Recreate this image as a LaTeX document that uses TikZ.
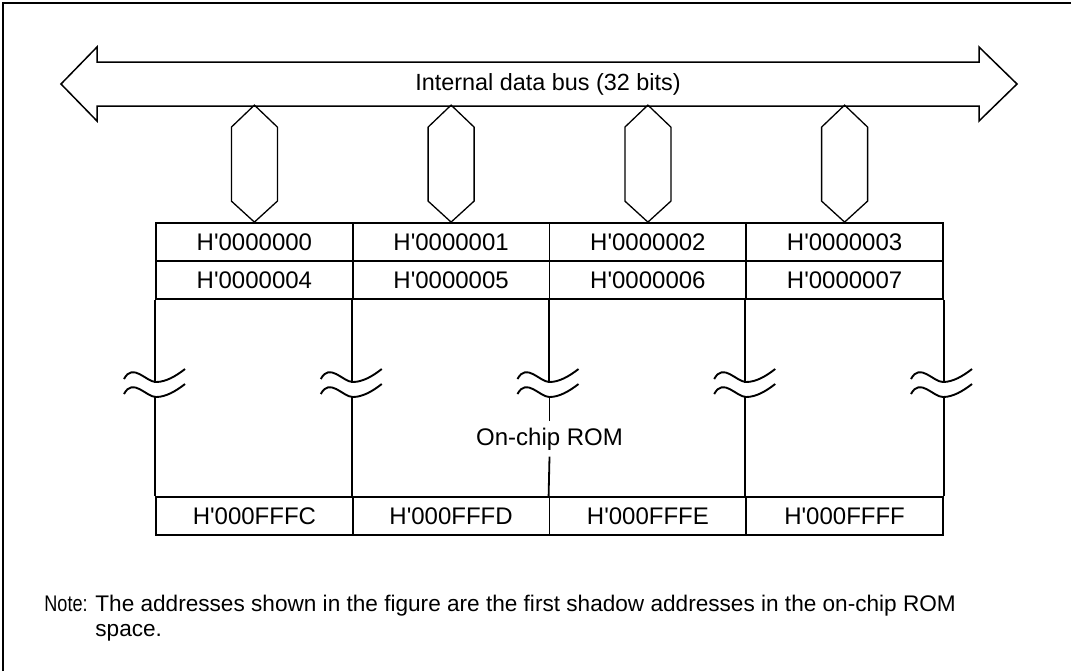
\documentclass[tikz,border=0pt]{standalone}
\usepackage{fontspec}
\setmainfont{Liberation Sans}
\usetikzlibrary{positioning}
\tikzset{
  addr cell/.style={draw,line width=0.9pt,minimum width=98.4pt,minimum height=19pt,inner sep=0pt,font=\fontsize{12}{14}\selectfont},
  rom line/.style={line width=0.9pt},
  bus line/.style={line width=0.75pt,line join=miter},
  port line/.style={line width=0.65pt,line join=miter},
  brk wave/.style={line width=0.95pt},
  note text/.style={anchor=base west,font=\fontsize{11.3}{13}\selectfont,inner sep=0pt},
}
\newcommand{\hq}{H\textquotesingle}
% break mark: x of the column line, y of the trough
\newcommand{\brkwave}[2]{\draw[brk wave] (#1-32,#2-3) .. controls (#1-23,#2-20) and (#1-10,#2) .. (#1,#2) .. controls (#1+10,#2) and (#1+20,#2-6) .. (#1+29,#2-13);}

\begin{document}
\begin{tikzpicture}[x=0.5pt,y=-0.5pt]
  \useasboundingbox (0,0) rectangle (1071,671);
  \draw[line width=1pt] (3,671) -- (3,3) -- (1071,3);

  % bus
  \draw[bus line] (61,84) -- (97,47) -- (97,62) -- (979,62) -- (979,47) -- (1017,84)
    -- (979,121) -- (979,106) -- (97,106) -- (97,121) -- cycle;
  \node[font=\fontsize{11.7}{14}\selectfont] (bus) at (548,84) {Internal data bus (32 bits)};

  \node[addr cell] (hA0) at (254.4,242) {\hq0000000};
  \node[addr cell] (hA1) at (451.1,242) {\hq0000001};
  \node[addr cell] (hA2) at (647.9,242) {\hq0000002};
  \node[addr cell] (hA3) at (844.6,242) {\hq0000003};
  \node[addr cell] (hB0) at (254.4,280) {\hq0000004};
  \node[addr cell] (hB1) at (451.1,280) {\hq0000005};
  \node[addr cell] (hB2) at (647.9,280) {\hq0000006};
  \node[addr cell] (hB3) at (844.6,280) {\hq0000007};
  \node[addr cell] (hZ0) at (254.4,516) {\hq000FFFC};
  \node[addr cell] (hZ1) at (451.1,516) {\hq000FFFD};
  \node[addr cell] (hZ2) at (647.9,516) {\hq000FFFE};
  \node[addr cell] (hZ3) at (844.6,516) {\hq000FFFF};

  % byte lanes to the bus
  \foreach \i in {0,...,3}
    \draw[port line] (hA\i.north) -- ++(-23,-21) -- ++(0,-74) -- ++(23,-22)
      -- ++(23,22) -- ++(0,74) -- cycle;

  \node[font=\fontsize{12}{14}\selectfont,inner sep=3pt] (rom) at (549.5,439) {On-chip ROM};

  \foreach \k in {0,1,3} {
    \draw[rom line] (hB\k.south west) -- ++(0,83);
    \draw[rom line] (hZ\k.north west) -- ++(0,-100);
  }
  \draw[rom line] (hB3.south east) -- ++(0,83);
  \draw[rom line] (hZ3.north east) -- ++(0,-100);
  \draw[rom line] (hB2.south west) -- ++(0,83);
  \draw[rom line] (549.5,397) -- (rom.north);
  \draw[rom line] (rom.south) -- (hZ2.north west);

  \foreach \x in {156,352.8,549.5,746.2,943} {
    \brkwave{\x}{382}
    \brkwave{\x}{397}
  }

  \node[note text] (note) at (44,611) {\scalebox{0.8}[1]{Note:}};
  \node[note text] (noteA) at (95,611)
    {The addresses shown in the figure are the first shadow addresses in the on-chip ROM};
  \node[note text] (noteB) at (95,636) {space.};
\end{tikzpicture}
\end{document}
